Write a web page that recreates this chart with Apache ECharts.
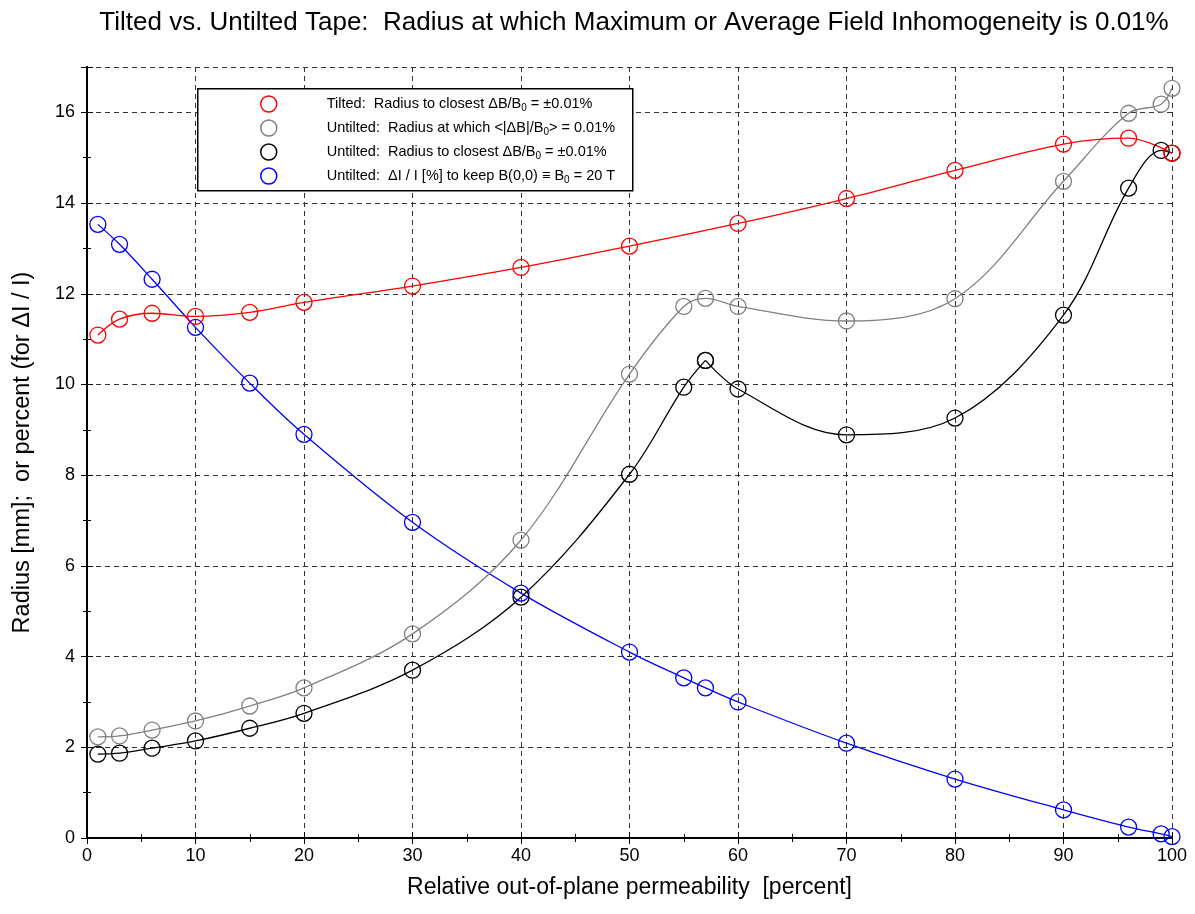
<!DOCTYPE html>
<html><head><meta charset="utf-8">
<script src="https://cdn.jsdelivr.net/npm/echarts@6/dist/echarts.min.js"></script>
<style>html,body{margin:0;padding:0;background:#fff}#c{width:1195px;height:914px}</style>
</head><body><div id="c"></div>
<script>
const xAll = [1,3,6,10,15,20,30,40,50,55,57,60,70,80,90,96,99,100];
const xRed = [1,3,6,10,15,20,30,40,50,60,70,80,90,96,100];
const redVals = [11.09,11.44,11.57,11.50,11.59,11.81,12.17,12.58,13.05,13.55,14.10,14.72,15.30,15.43,15.10];
const grayVals = [2.23,2.25,2.38,2.58,2.91,3.31,4.50,6.57,10.23,11.72,11.90,11.72,11.40,11.89,14.48,15.98,16.18,16.53];
const blackVals = [1.85,1.87,1.98,2.14,2.42,2.75,3.70,5.31,8.02,9.94,10.53,9.90,8.89,9.26,11.53,14.33,15.16,15.10];
const blueVals = [13.53,13.09,12.32,11.26,10.03,8.90,6.96,5.40,4.10,3.53,3.31,3.00,2.09,1.30,0.62,0.24,0.09,0.03];
const legendLabels = {
  red: 'Tilted:  Radius to closest \u0394B/B{sub|0} = \u00b10.01%',
  gray: 'Untilted:  Radius at which <|\u0394B|/B{sub|0}> = 0.01%',
  black: 'Untilted:  Radius to closest \u0394B/B{sub|0} = \u00b10.01%',
  blue: 'Untilted:  \u0394I / I [%] to keep B(0,0) \u2261 B{sub|0} = 20 T'
};
const colors = {red:'#ff0000', gray:'#808080', black:'#000000', blue:'#0000ff'};
const titleText = 'Tilted vs. Untilted Tape:  Radius at which Maximum or Average Field Inhomogeneity is 0.01%';
const xName = 'Relative out-of-plane permeability  [percent]';
const yName = 'Radius [mm];  or percent (for \u0394I / I)';

const FONT = 'Liberation Sans, Arial, sans-serif';
const pairs = (xs, ys) => xs.map((x,i)=>[x, ys[i]]);
const peakIdx = xAll.indexOf(57);
function mkSeries(key, data) {
  return {
    name: key, type: 'line', data: data, smooth: 0.35,
    symbol: 'circle', symbolSize: 16, clip: true,
    lineStyle: {color: colors[key], width: 1.3},
    itemStyle: {color: 'rgba(0,0,0,0)', borderColor: colors[key], borderWidth: 1.3},
    emphasis: {disabled: true}, z: 3
  };
}
const series = [
  mkSeries('blue', pairs(xAll, blueVals)),
  mkSeries('gray', pairs(xAll, grayVals)),
  mkSeries('black', pairs(xAll, blackVals).slice(0, peakIdx + 1)),
  mkSeries('black', pairs(xAll, blackVals).slice(peakIdx)),
  mkSeries('red', pairs(xRed, redVals))
];
const grid = {left: 87, right: 23, top: 67, bottom: 76};
const axisLineStyle = {show: true, lineStyle: {color: '#000', width: 2}};
const chart = echarts.init(document.getElementById('c'));
chart.setOption({
  animation: false,
  backgroundColor: '#fff',
  title: {text: titleText, left: 629, textAlign: 'center', top: 5, textStyle: {fontFamily: FONT, fontSize: 26, fontWeight: 'normal', color: '#000'}},
  grid: grid,
  graphic: [{type: 'rect', left: 197, top: 88, shape: {width: 435, height: 102}, style: {fill: '#fff', stroke: '#000', lineWidth: 1.5}, z: 10}],
  legend: {
    orient: 'vertical', left: 255, top: 90, itemWidth: 16, itemHeight: 16, itemGap: 6, z: 11,
    data: ['red','gray','black','blue'].map(k => ({name: k, icon: 'circle', itemStyle: {color: 'rgba(0,0,0,0)', borderColor: colors[k], borderWidth: 1.5}})),
    formatter: n => '{sp|}' + legendLabels[n],
    textStyle: {fontFamily: FONT, fontSize: 14.5, color: '#000', lineHeight: 18,
      rich: {sp: {width: 45, lineHeight: 18}, sub: {fontSize: 10, fontFamily: FONT, verticalAlign: 'bottom', lineHeight: 18}}},
    selectedMode: false
  },
  xAxis: [{
    type: 'value', min: 0, max: 100, interval: 10, position: 'bottom',
    name: xName, nameLocation: 'middle', nameGap: 38, nameMoveOverlap: false,
    nameTextStyle: {fontFamily: FONT, fontSize: 23, color: '#000'},
    axisLine: axisLineStyle,
    axisTick: {show: true, inside: true, length: 6, lineStyle: {color: '#000', width: 1}},
    minorTick: {show: true, splitNumber: 2, length: 4, lineStyle: {color: '#000'}},
    axisLabel: {fontFamily: FONT, fontSize: 18, color: '#000', margin: 9},
    splitLine: {show: true, lineStyle: {color: '#333', type: [5,4], width: 1}}
  }, {
    type: 'value', min: 0, max: 100, interval: 10, position: 'top',
    axisLine: axisLineStyle,
    axisTick: {show: true, inside: true, length: 6, lineStyle: {color: '#000', width: 1}},
    minorTick: {show: true, splitNumber: 2, length: 4, lineStyle: {color: '#000'}},
    axisLabel: {show: false}, splitLine: {show: false}
  }],
  yAxis: [{
    type: 'value', min: 0, max: 17, interval: 2, position: 'left',
    name: yName, nameLocation: 'middle', nameGap: 52, nameMoveOverlap: false,
    nameTextStyle: {fontFamily: FONT, fontSize: 23.5, color: '#000'},
    axisLine: axisLineStyle,
    axisTick: {show: true, inside: true, length: 6, lineStyle: {color: '#000', width: 1}},
    minorTick: {show: true, splitNumber: 2, length: 4, lineStyle: {color: '#000'}},
    axisLabel: {fontFamily: FONT, fontSize: 18, color: '#000', margin: 12, formatter: v => v % 2 === 0 ? v : ''},
    splitLine: {show: true, lineStyle: {color: '#333', type: [5,4], width: 1}}
  }, {
    type: 'value', min: 0, max: 17, interval: 2, position: 'right',
    axisLine: axisLineStyle,
    axisTick: {show: true, inside: true, length: 6, lineStyle: {color: '#000', width: 1}},
    minorTick: {show: true, splitNumber: 2, length: 4, lineStyle: {color: '#000'}},
    axisLabel: {show: false}, splitLine: {show: false}
  }],
  series: series
});
</script></body></html>
